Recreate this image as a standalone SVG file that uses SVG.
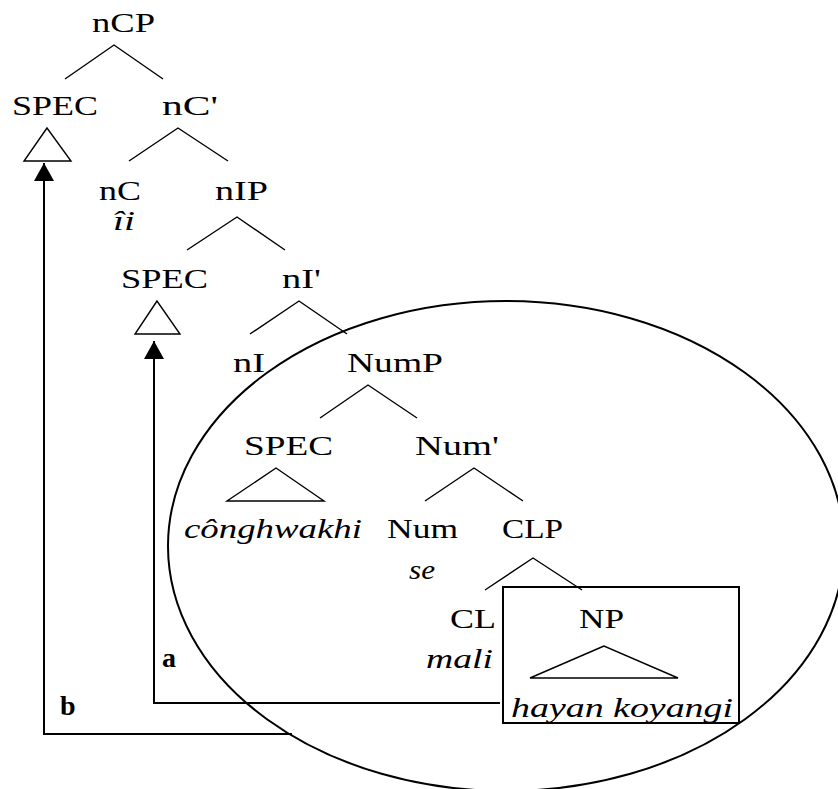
<svg xmlns="http://www.w3.org/2000/svg" width="838" height="789" viewBox="0 0 838 789">
<style>
  text { font-family: "Liberation Serif", "Times New Roman", serif; font-size: 28px; fill: #000; }
  .it { font-style: italic; }
  .bd { font-weight: bold; }
  .br { fill: none; stroke: #000; stroke-width: 1.4; }
  .tri { fill: #fff; stroke: #000; stroke-width: 1.4; }
  .con { fill: none; stroke: #000; stroke-width: 2; }
</style>
<defs>
  <marker id="arr" markerUnits="userSpaceOnUse" markerWidth="19" markerHeight="20" refX="18" refY="10" orient="auto">
    <path d="M0,0 L18,10 L0,20 Z" fill="#000"/>
  </marker>
</defs>
<rect width="838" height="789" fill="#fff"/>

<g id="ellipse-region">
  <ellipse cx="506" cy="546" rx="338" ry="245" class="con"/>
</g>
<g id="np-box">
  <rect x="503" y="587" width="236" height="136" class="con"/>
</g>

<g id="branches">
  <path class="br" d="M65,79 L114,45 L163,79"/>
  <path class="br" d="M129,161 L178,128 L228,161"/>
  <path class="br" d="M187,250 L237,217 L285,250"/>
  <path class="br" d="M250,334 L299,301 L347,334"/>
  <path class="br" d="M320,418 L368,385 L417,418"/>
  <path class="br" d="M425,501 L474,468 L523,501"/>
  <path class="br" d="M485,590 L533,558 L582,590"/>
</g>

<g id="nCP"><text x="92" y="32" textLength="63" lengthAdjust="spacingAndGlyphs">nCP</text></g>
<g id="spec1">
  <text x="12" y="115" textLength="86" lengthAdjust="spacingAndGlyphs">SPEC</text>
  <polygon class="tri" points="47,128 24,161 71,161"/>
</g>
<g id="nCbar"><text x="162" y="115" textLength="56" lengthAdjust="spacingAndGlyphs">nC'</text></g>
<g id="nC"><text x="99" y="200" textLength="42" lengthAdjust="spacingAndGlyphs">nC</text><text class="it" x="113" y="230" textLength="22" lengthAdjust="spacingAndGlyphs">îi</text></g>
<g id="nIP"><text x="215" y="200" textLength="53" lengthAdjust="spacingAndGlyphs">nIP</text></g>
<g id="spec2">
  <text x="121" y="288" textLength="87" lengthAdjust="spacingAndGlyphs">SPEC</text>
  <polygon class="tri" points="157,301 135,334 180,334"/>
</g>
<g id="nIbar"><text x="282" y="288" textLength="39" lengthAdjust="spacingAndGlyphs">nI'</text></g>
<g id="nI"><text x="233" y="372" textLength="32" lengthAdjust="spacingAndGlyphs">nI</text></g>
<g id="NumP"><text x="347" y="372" textLength="96" lengthAdjust="spacingAndGlyphs">NumP</text></g>
<g id="spec3">
  <text x="244" y="455" textLength="89" lengthAdjust="spacingAndGlyphs">SPEC</text>
  <polygon class="tri" points="276,468 227,501 324,501"/>
  <text class="it" x="184" y="538" textLength="178" lengthAdjust="spacingAndGlyphs">cônghwakhi</text>
</g>
<g id="Numbar"><text x="415" y="455" textLength="84" lengthAdjust="spacingAndGlyphs">Num'</text></g>
<g id="Num"><text x="387" y="538" textLength="71" lengthAdjust="spacingAndGlyphs">Num</text><text class="it" x="409" y="579" textLength="26" lengthAdjust="spacingAndGlyphs">se</text></g>
<g id="CLP"><text x="502" y="538" textLength="61" lengthAdjust="spacingAndGlyphs">CLP</text></g>
<g id="CL"><text x="450" y="628" textLength="46" lengthAdjust="spacingAndGlyphs">CL</text><text class="it" x="426" y="668" textLength="67" lengthAdjust="spacingAndGlyphs">mali</text></g>
<g id="NP">
  <text x="579" y="628" textLength="45" lengthAdjust="spacingAndGlyphs">NP</text>
  <polygon class="tri" points="604,646 530,678 678,678"/>
  <text class="it" x="511" y="717" textLength="222" lengthAdjust="spacingAndGlyphs">hayan koyangi</text>
</g>

<g id="connectors">
  <polyline class="con" points="500,703 154,703 154,341" marker-end="url(#arr)"/>
  <polyline class="con" points="292,734 44,734 44,163" marker-end="url(#arr)"/>
  <text class="bd" x="162" y="667">a</text>
  <text class="bd" x="60" y="715">b</text>
</g>
</svg>
